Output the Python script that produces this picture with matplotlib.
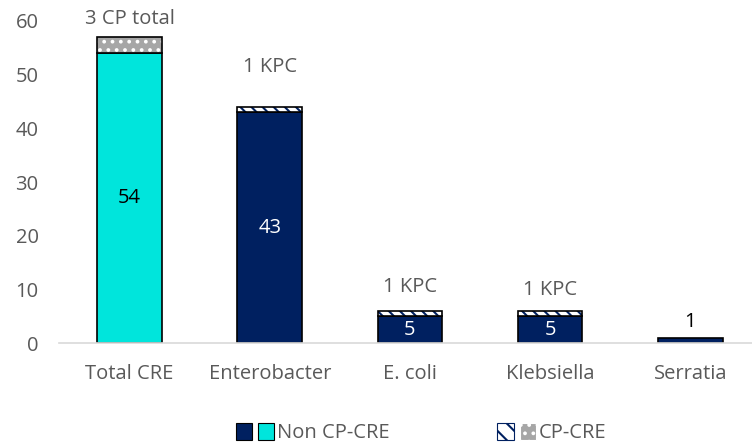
import matplotlib.pyplot as plt
from matplotlib.patches import Patch
from matplotlib.legend_handler import HandlerTuple

# data
categories = ["Total CRE", "Enterobacter", "E. coli", "Klebsiella", "Serratia"]
non_cp = [54, 43, 5, 5, 1]
cp = [3, 1, 1, 1, 0]
cp_labels = ["3 CP total", "1 KPC", "1 KPC", "1 KPC", ""]

NAVY = "#002060"
CYAN = "#00E5DC"
GRAY = "#A6A6A6"
TXT = "#595959"
FS = 14.5

plt.rcParams['font.family'] = ['Open Sans', 'DejaVu Sans']
plt.rcParams['hatch.linewidth'] = 1.5

fig = plt.figure(figsize=(7.52, 4.45), dpi=100)
ax = fig.add_axes([0.079, 0.229, 0.921, 0.724])

x = list(range(len(categories)))
w = 0.46
base_cols = [CYAN] + [NAVY] * 4

for i in x:
    # non CP part
    ax.bar(i, non_cp[i], w, color=base_cols[i], edgecolor="black", linewidth=1.2, zorder=2)
    if cp[i] > 0:
        if i == 0:
            ax.bar(i, cp[i], w, bottom=non_cp[i], color=GRAY, edgecolor="white",
                   hatch="..", linewidth=0, zorder=2)
        else:
            ax.bar(i, cp[i], w, bottom=non_cp[i], color="white", edgecolor=NAVY,
                   hatch="\\\\\\", linewidth=0, zorder=2)
        ax.bar(i, cp[i], w, bottom=non_cp[i], color="none", edgecolor="black",
               linewidth=1.2, zorder=3)

# value labels
inner_cols = ["black", "white", "white", "white"]
for i in x:
    if non_cp[i] >= 5:
        ax.text(i, non_cp[i] / 2, str(non_cp[i]), ha="center", va="center",
                fontsize=FS, color=inner_cols[i], zorder=4)
    else:
        ax.annotate(str(non_cp[i]), (i, non_cp[i] + cp[i]), xytext=(0, 11.5),
                    textcoords="offset points", ha="center", va="center",
                    fontsize=FS, color="black")

top_offsets = [13, 29, 17, 15, 0]
for i in x:
    if cp_labels[i]:
        ax.annotate(cp_labels[i], (i, non_cp[i] + cp[i]), xytext=(0, top_offsets[i]),
                    textcoords="offset points", ha="center", va="center",
                    fontsize=FS, color=TXT)

ax.set_xlim(-0.5, 4.44)
ax.set_ylim(0, 60)
ax.set_yticks(range(0, 61, 10))
ax.set_xticks(x)
ax.set_xticklabels(categories)
ax.tick_params(axis="both", length=0, labelsize=FS, colors=TXT)
ax.tick_params(axis="x", pad=15)
ax.tick_params(axis="y", pad=15)
for s in ["top", "right", "left"]:
    ax.spines[s].set_visible(False)
ax.spines["bottom"].set_color("#D9D9D9")
ax.spines["bottom"].set_linewidth(1.2)

# legend
h1 = (Patch(facecolor=NAVY, edgecolor="black", linewidth=0.8),
      Patch(facecolor=CYAN, edgecolor="black", linewidth=0.8))
h2 = (Patch(facecolor="white", edgecolor=NAVY, hatch="\\\\", linewidth=0.8),
      Patch(facecolor=GRAY, edgecolor="white", hatch="..", linewidth=0.8))
fig.legend([h1, h2], ["Non CP-CRE", "CP-CRE"],
           handler_map={tuple: HandlerTuple(ndivide=None, pad=0.3)},
           loc="center", bbox_to_anchor=(0.560, 0.027), ncol=2, frameon=False,
           fontsize=FS, labelcolor=TXT, handlelength=1.9, handleheight=0.95,
           handletextpad=0.15, columnspacing=5.35)

fig.savefig("out.png", dpi=100)
